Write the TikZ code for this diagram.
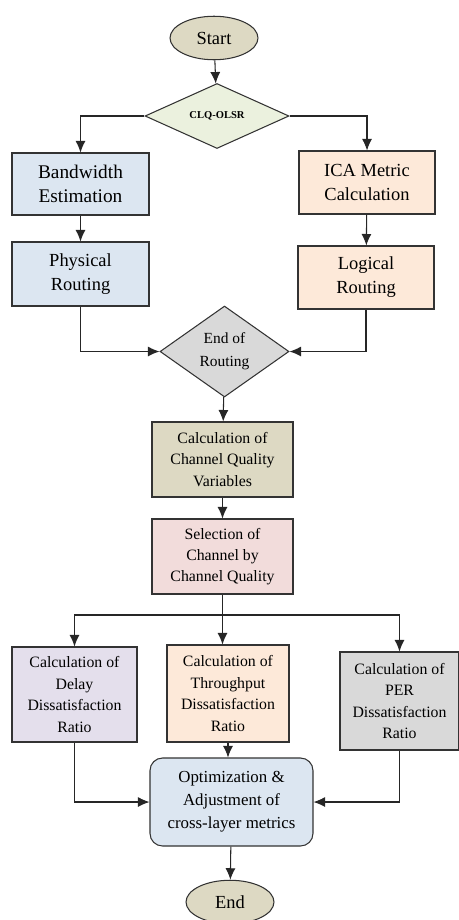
\documentclass[tikz,border=0pt]{standalone}
\usepackage{fontspec}
\setmainfont{Liberation Serif}
\usepackage{tikz}
\usetikzlibrary{shapes,arrows.meta,positioning,calc}
\definecolor{tanfill}{HTML}{DDD9C3}
\definecolor{lightgreen}{HTML}{EBF1DE}
\definecolor{lightblue}{HTML}{DCE6F1}
\definecolor{lightpeach}{HTML}{FDE9D9}
\definecolor{lightgray}{HTML}{D9D9D9}
\definecolor{lightpink}{HTML}{F2DCDB}
\definecolor{lightlilac}{HTML}{E4DFEC}

\begin{document}
\begin{tikzpicture}[x=0.02cm,y=-0.02cm,>={Latex[length=2.3mm,width=2mm]},
  box/.style={rectangle,draw=black!80,line width=0.6pt,align=center,inner sep=1pt},
  term/.style={ellipse,draw=black!80,line width=0.6pt,fill=tanfill,minimum width=1.76cm,minimum height=0.87cm,inner sep=0pt,font=\fontsize{10.5}{12}\selectfont},
  decide/.style={diamond,draw=black!80,line width=0.6pt,align=center,inner sep=0pt},
  flow/.style={->,line width=0.6pt,black!85}]
  \useasboundingbox (0,0) rectangle (459,920);
  % Nodes
  \node[term] (start) at (214,38) {Start};
  \node[decide,fill=lightgreen,minimum width=2.88cm,minimum height=1.3cm,font=\fontsize{6}{7}\selectfont\bfseries] (clq) at (217,116) {CLQ-OLSR};
  \node[box,fill=lightblue,minimum width=2.74cm,minimum height=1.24cm,font=\fontsize{11}{13.6}\selectfont] (bw) at (80.5,184) {Bandwidth\\Estimation};
  \node[box,fill=lightblue,minimum width=2.74cm,minimum height=1.28cm,font=\fontsize{10.5}{13.6}\selectfont] (phys) at (80.5,274) {Physical\\Routing};
  \node[box,fill=lightpeach,minimum width=2.72cm,minimum height=1.26cm,font=\fontsize{10.5}{13.6}\selectfont] (ica) at (367,182.5) {ICA Metric\\Calculation};
  \node[box,fill=lightpeach,minimum width=2.72cm,minimum height=1.26cm,font=\fontsize{10.5}{13.6}\selectfont] (logi) at (366,277.5) {Logical\\Routing};
  \node[decide,fill=lightgray,minimum width=2.58cm,minimum height=1.82cm,font=\fontsize{8.8}{13}\selectfont] (eor) at (224.5,351.5) {End of\\Routing};
  \node[box,fill=tanfill,minimum width=2.82cm,minimum height=1.5cm,font=\fontsize{9}{12}\selectfont] (cqv) at (222.5,459.5) {Calculation of\\Channel Quality\\Variables};
  \node[box,fill=lightpink,minimum width=2.82cm,minimum height=1.5cm,font=\fontsize{9}{12}\selectfont] (sel) at (222.5,556.5) {Selection of\\Channel by\\Channel Quality};
  \node[box,fill=lightlilac,minimum width=2.5cm,minimum height=1.9cm,font=\fontsize{9}{12.3}\selectfont] (delay) at (74.5,694.5) {Calculation of\\Delay\\Dissatisfaction\\Ratio};
  \node[box,fill=lightpeach,minimum width=2.44cm,minimum height=1.94cm,font=\fontsize{9}{12.3}\selectfont] (thr) at (228,693.5) {Calculation of\\Throughput\\Dissatisfaction\\Ratio};
  \node[box,fill=lightgray,minimum width=2.38cm,minimum height=1.96cm,font=\fontsize{9}{12.3}\selectfont] (per) at (399.5,701) {Calculation of\\PER\\Dissatisfaction\\Ratio};
  \node[box,fill=lightblue,rounded corners=0.25cm,minimum width=3.26cm,minimum height=1.76cm,font=\fontsize{9.6}{13}\selectfont] (opt) at (231.5,802) {Optimization \&\\Adjustment of\\cross-layer metrics};
  \node[term] (end) at (230,902) {End};
  \coordinate (split) at (sel.south |- 0,615);

  % Arrows
  \draw[flow] (start) -- (clq);
  \draw[flow] (clq.west) -| (bw.north);
  \draw[flow] (clq.east) -| (ica.north);
  \draw[flow] (bw) -- (phys);
  \draw[flow] (ica) -- (logi);
  \draw[flow] (phys.south) |- (eor.west);
  \draw[flow] (logi.south) |- (eor.east);
  \draw[flow] (eor) -- (cqv);
  \draw[flow] (cqv) -- (sel);
  \draw[flow] (sel.south) -- (sel.south |- thr.north);
  \draw[flow] (split) -| (delay.north);
  \draw[flow] (split) -| (per.north);
  \draw[flow] (delay.south) |- (opt.west);
  \draw[flow] (thr.south) -- (thr.south |- opt.north);
  \draw[flow] (per.south) |- (opt.east);
  \draw[flow] (opt) -- (end);
\end{tikzpicture}
\end{document}
